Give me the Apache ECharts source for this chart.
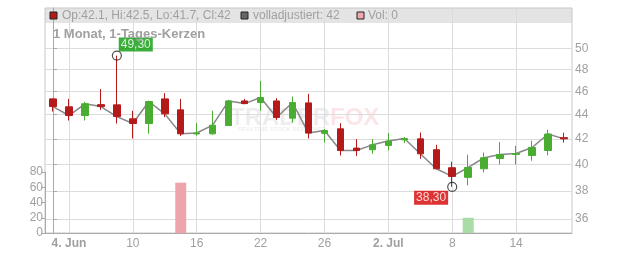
<!DOCTYPE html>
<html><head><meta charset="utf-8">
<script src="https://cdn.jsdelivr.net/npm/echarts@6/dist/echarts.min.js"></script>
<style>html,body{margin:0;padding:0;background:#fff}#c{width:632px;height:253px}</style>
</head><body><div id="c"></div>
<script>
// ---- data ----
const dates = ['2020-06-03','2020-06-04','2020-06-05','2020-06-08','2020-06-09','2020-06-10','2020-06-11','2020-06-12',
  '2020-06-15','2020-06-16','2020-06-17','2020-06-18','2020-06-19','2020-06-22','2020-06-23','2020-06-24','2020-06-25',
  '2020-06-26','2020-06-29','2020-06-30','2020-07-01','2020-07-02','2020-07-03','2020-07-06','2020-07-07','2020-07-08',
  '2020-07-09','2020-07-10','2020-07-13','2020-07-14','2020-07-15','2020-07-16','2020-07-17'];
const opens  = [45.36,44.67,43.93,44.86,44.84,43.65,43.26,45.36,44.41,42.40,42.41,43.09,45.18,45.04,45.18,43.71,45.01,
  42.45,42.82,41.26,41.13,41.47,41.92,42.00,41.13,39.73,39.00,39.65,40.44,40.76,40.68,41.07,42.1];
const highs  = [45.40,45.36,45.10,46.22,49.30,44.33,45.20,45.86,45.36,43.29,44.35,45.27,45.36,46.96,45.42,45.56,45.80,
  42.80,43.29,41.98,41.98,42.47,42.15,42.51,41.52,40.19,40.73,40.91,41.74,41.44,41.85,42.74,42.5];
const lows   = [44.27,43.51,43.51,44.41,43.26,42.03,42.41,43.79,42.24,42.27,42.33,43.09,44.95,44.33,43.56,43.34,42.03,
  41.71,40.68,40.63,40.81,41.07,41.66,40.42,39.65,38.30,38.40,39.37,39.98,39.98,40.27,40.68,41.7];
const closes = [44.69,43.93,44.93,44.69,43.84,43.26,45.13,44.07,42.41,42.48,43.12,45.18,44.95,45.48,43.76,45.04,42.47,
  42.68,41.07,41.07,41.52,41.82,42.03,40.81,39.65,39.07,39.75,40.50,40.76,40.83,41.31,42.39,42.0];
const volumes = [0,0,0,0,0,0,0,0,66,0,0,0,0,0,0,0,0,0,0,0,0,0,0,0,0,0,20,0,0,0,0,0,0];
const xTickLabels = ['4. Jun','10','16','22','26','2. Jul','8','14'];
const priceTicks = [36,38,40,42,44,46,48,50];
const volTicks = [0,20,40,60,80];
const headerTexts = ['Op:42.1, Hi:42.5, Lo:41.7, Cl:42','volladjustiert: 42','Vol: 0'];
const titleText = '1 Monat, 1-Tages-Kerzen';

// ---- build ----
const L = Math.log;
const RED = '#b41a1a', GREEN = '#4aad32';
const tickIdx = xTickLabels.map((_, k) => 1 + 4 * k);
const candle = dates.map((d, i) => [L(opens[i]), L(closes[i]), L(lows[i]), L(highs[i])]);
const lineData = closes.map(v => L(v));
const volData = volumes.map((v, i) => ({value: v, itemStyle: {color: closes[i] >= opens[i] ? '#a9dca6' : '#eea4ad'}}));
let hiI = 0, loI = 0;
highs.forEach((v, i) => { if (v > highs[hiI]) hiI = i; });
lows.forEach((v, i) => { if (v < lows[loI]) loI = i; });
const fmt = v => v.toFixed(2).replace('.', ',');
const extremes = [
  {value: [hiI, L(highs[hiI])], label: {formatter: fmt(highs[hiI]), position: [7, -13], align: 'left', verticalAlign: 'top', backgroundColor: '#0a9a0a'}},
  {value: [loI, L(lows[loI])], label: {formatter: fmt(lows[loI]), position: [1, 9], align: 'right', verticalAlign: 'top', backgroundColor: '#d40000'}}
];

const chart = echarts.init(document.getElementById('c'), null, {renderer: 'canvas'});
const axisGray = '#aaa', gridGray = '#dcdcdc', txtGray = '#a0a0a0';
const FF = '"Liberation Sans", Arial, sans-serif';
const sq = (x, fill) => ({type: 'rect', x: x, y: 12, z: 10, shape: {x: 0, y: 0, width: 7, height: 7}, style: {fill: fill, stroke: '#222', lineWidth: 1}});
const tx = (x, y, text, font, fill, z) => ({type: 'text', x: x, y: y, z: z || 10, style: {text: text, fill: fill, font: font, align: 'left', verticalAlign: 'middle'}});
chart.setOption({
  animation: false,
  textStyle: {fontFamily: FF},
  grid: [
    {left: 45, right: 60, top: 8, bottom: 20, show: true, borderColor: '#c8c8c8', borderWidth: 1},
    {left: 45, right: 60, top: 172, bottom: 20}
  ],
  xAxis: [
    {type: 'category', gridIndex: 0, data: dates, show: false, boundaryGap: true},
    {type: 'value', gridIndex: 0, min: -0.5, max: dates.length - 0.5, position: 'bottom',
      axisLine: {show: true, lineStyle: {color: axisGray}},
      axisTick: {show: false, customValues: tickIdx},
      axisLabel: {customValues: tickIdx, color: txtGray, fontSize: 12, margin: 5,
        formatter: v => { const s = xTickLabels[tickIdx.indexOf(Math.round(v))] || ''; return s.indexOf('.') > 0 ? '{b|' + s + '}' : s; },
        rich: {b: {fontWeight: 'bold', color: txtGray, fontSize: 12}}},
      splitLine: {show: true, lineStyle: {color: gridGray, width: 1}}},
    {type: 'category', gridIndex: 1, data: dates, show: false, boundaryGap: true}
  ],
  yAxis: [
    {type: 'value', gridIndex: 0, position: 'right', min: L(35.04), max: L(54.03),
      axisLine: {show: true, lineStyle: {color: axisGray}},
      axisTick: {show: true, length: 4, customValues: priceTicks.map(L), lineStyle: {color: axisGray}},
      axisLabel: {customValues: priceTicks.map(L), color: txtGray, fontSize: 12, margin: 3,
        formatter: v => String(Math.round(Math.exp(v)))},
      splitLine: {show: true, lineStyle: {color: gridGray, width: 1}}},
    {type: 'value', gridIndex: 1, position: 'left', min: volTicks[0], max: volTicks[volTicks.length - 1], interval: 20,
      axisLine: {show: true, lineStyle: {color: axisGray}},
      axisTick: {show: true, length: 4, lineStyle: {color: axisGray}},
      axisLabel: {color: txtGray, fontSize: 12, margin: 2},
      splitLine: {show: false}}
  ],
  graphic: [
    {type: 'rect', x: 45, y: 8, z: -1, shape: {x: 0, y: 0, width: 527, height: 15}, style: {fill: '#e4e4e4'}},
    sq(50, RED), tx(62, 16, headerTexts[0], '12px ' + FF, txtGray),
    sq(241, '#666'), tx(253, 16, headerTexts[1], '12px ' + FF, txtGray),
    sq(357, '#f0a8b0'), tx(368, 16, headerTexts[2], '12px ' + FF, txtGray),
    tx(53, 34, titleText, 'bold 13px ' + FF, txtGray),
    {type: 'text', x: 230, y: 118, z: -1, style: {text: '{a|TRADER}{b|FOX}', verticalAlign: 'middle',
      rich: {a: {fill: 'rgba(0,0,0,0.07)', font: 'bold 24px ' + FF}, b: {fill: 'rgba(235,70,90,0.14)', font: 'bold 24px ' + FF}}}},
    tx(238, 129, 'REALTIME STOCK SCREENER', 'bold 6px ' + FF, 'rgba(0,0,0,0.08)', -1)
  ],
  series: [
    {type: 'line', xAxisIndex: 0, yAxisIndex: 0, data: lineData, symbol: 'none', z: 1,
      lineStyle: {color: '#888', width: 1.5}},
    {type: 'candlestick', xAxisIndex: 0, yAxisIndex: 0, data: candle, barWidth: 7, z: 2,
      itemStyle: {color: GREEN, color0: RED, borderColor: GREEN, borderColor0: RED, borderWidth: 1}},
    {type: 'scatter', xAxisIndex: 1, yAxisIndex: 0, data: extremes, symbol: 'circle', symbolSize: 9, z: 5,
      itemStyle: {color: 'rgba(255,255,255,0)', borderColor: '#222', borderWidth: 1.2},
      label: {show: true, color: '#fff', fontSize: 12, lineHeight: 13, padding: [1, 2, 0, 2]}},
    {type: 'bar', xAxisIndex: 2, yAxisIndex: 1, data: volData, barWidth: 11}
  ]
});
</script></body></html>
